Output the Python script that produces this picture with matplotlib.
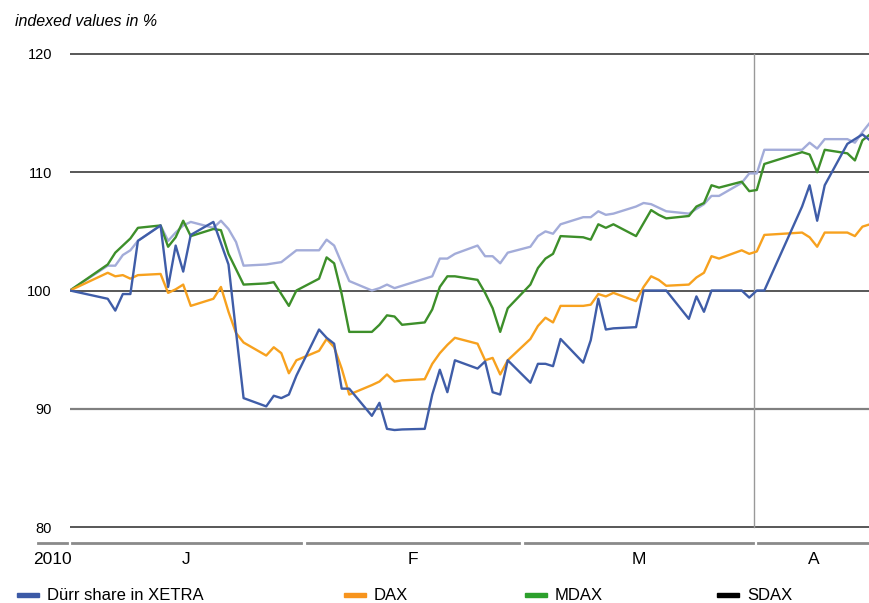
import datetime as dt
import matplotlib
matplotlib.use("Agg")
import matplotlib.pyplot as plt
import matplotlib.dates as mdates
from matplotlib.lines import Line2D
from matplotlib.patches import Rectangle

plt.rcParams['font.family'] = ['Liberation Sans', 'DejaVu Sans']

# trading days (Dec 30, 2009 = base 100)
days = (["2009-12-30"]
        + ["2010-01-%02d" % d for d in (4, 5, 6, 7, 8, 11, 12, 13, 14, 15, 18, 19, 20, 21, 22, 25, 26, 27, 28, 29)]
        + ["2010-02-%02d" % d for d in (1, 2, 3, 4, 5, 8, 9, 10, 11, 12, 15, 16, 17, 18, 19, 22, 23, 24, 25, 26)]
        + ["2010-03-%02d" % d for d in (1, 2, 3, 4, 5, 8, 9, 10, 11, 12, 15, 16, 17, 18, 19, 22, 23, 24, 25, 26, 29, 30, 31)]
        + ["2010-04-%02d" % d for d in (1, 6, 7, 8, 9, 12, 13, 14, 15)])
dates = [dt.datetime.strptime(s, "%Y-%m-%d") for s in days]

durr = [100,
        99.3, 98.3, 99.7, 99.7, 104.2, 105.5, 100.3, 103.8, 101.6, 104.7,
        105.8, 104.0, 102.2, 96.5, 90.9, 90.2, 91.1, 90.9, 91.2, 92.8,
        96.7, 96.0, 95.5, 91.7, 91.7, 89.4, 90.5, 88.3, 88.2, 88.25,
        88.3, 91.2, 93.3, 91.4, 94.1, 93.4, 94.0, 91.4, 91.2, 94.1,
        92.2, 93.8, 93.8, 93.6, 95.9, 93.9, 95.8, 99.3, 96.7, 96.8,
        96.9, 100, 100, 100, 100, 97.6, 99.5, 98.2, 100, 100,
        100, 99.4, 100, 100, 107.1, 108.9, 105.9, 108.9, 112.4, 112.8, 113.2, 112.7]
dax = [100,
       101.5, 101.2, 101.3, 101.0, 101.3, 101.4, 99.8, 100.1, 100.5, 98.7,
       99.3, 100.3, 98.2, 96.4, 95.6, 94.5, 95.2, 94.7, 93.0, 94.1,
       94.9, 95.9, 95.2, 93.4, 91.2, 92.0, 92.3, 92.9, 92.3, 92.4,
       92.5, 93.8, 94.7, 95.4, 96.0, 95.5, 94.1, 94.3, 92.9, 94.1,
       95.9, 97.0, 97.7, 97.3, 98.7, 98.7, 98.8, 99.7, 99.5, 99.8,
       99.1, 100.3, 101.2, 100.9, 100.4, 100.5, 101.1, 101.5, 102.9, 102.7,
       103.4, 103.1, 103.3, 104.7, 104.9, 104.5, 103.7, 104.9, 104.9, 104.6, 105.4, 105.6]
mdax = [100,
        102.2, 103.2, 103.8, 104.4, 105.3, 105.5, 103.7, 104.5, 105.9, 104.6,
        105.2, 105.1, 103.1, 101.8, 100.5, 100.6, 100.7, 99.7, 98.7, 100.0,
        101.0, 102.8, 102.3, 99.7, 96.5, 96.5, 97.1, 97.9, 97.8, 97.1,
        97.3, 98.4, 100.3, 101.2, 101.2, 100.9, 99.8, 98.5, 96.5, 98.5,
        100.5, 101.9, 102.7, 103.1, 104.6, 104.5, 104.3, 105.6, 105.3, 105.6,
        104.6, 105.7, 106.8, 106.4, 106.1, 106.3, 107.1, 107.4, 108.9, 108.7,
        109.2, 108.4, 108.5, 110.7, 111.7, 111.5, 110.0, 111.9, 111.6, 111.0, 112.7, 113.2]
sdax = [100,
        102.1, 102.1, 103.0, 103.4, 104.2, 105.5, 104.2, 104.9, 105.5, 105.8,
        105.3, 105.9, 105.2, 104.1, 102.1, 102.2, 102.3, 102.4, 102.9, 103.4,
        103.4, 104.3, 103.8, 102.3, 100.8, 100.0, 100.2, 100.5, 100.2, 100.4,
        101.0, 101.2, 102.7, 102.7, 103.1, 103.8, 102.9, 102.9, 102.3, 103.2,
        103.7, 104.6, 105.0, 104.8, 105.6, 106.2, 106.2, 106.7, 106.4, 106.5,
        107.1, 107.4, 107.3, 107.0, 106.7, 106.5, 106.9, 107.3, 108.0, 108.0,
        109.1, 109.9, 109.9, 111.9, 111.9, 112.5, 112.0, 112.8, 112.8, 112.5, 113.4, 114.2]

series_names = ["Dürr share in XETRA", "DAX", "MDAX", "SDAX"]
line_colors = ["#3f5da8", "#f7a11e", "#3d8f2a", "#a3acd9"]
legend_colors = ["#3c5aa6", "#f7941d", "#2ca02c", "#000000"]
month_labels = ["2010", "J", "F", "M", "A"]
yticks = [80, 90, 100, 110, 120]

fig = plt.figure(figsize=(8.7, 6.03), dpi=100)
W, H = 870.0, 603.0
ax = fig.add_axes([70 / W, 1 - 530 / H, 800 / W, 480 / H])

ax.set_xlim(mdates.date2num(dt.datetime(2009, 12, 30)), mdates.date2num(dt.datetime(2010, 4, 15)))
ax.set_ylim(80 - 3 / 11.825, 120 + 4 / 11.825)

for v in yticks:
    c, lw = ("#808080", 1.6) if v == 90 else ("#2a2a2a", 1.1)
    ax.axhline(v, color=c, lw=lw, zorder=1)
ax.plot([dt.datetime(2010, 3, 30, 14)] * 2, [80, 120], color="#999999", lw=1, zorder=1)

for vals, col in reversed(list(zip([durr, dax, mdax, sdax], line_colors))):
    ax.plot(dates, vals, color=col, lw=1.7, zorder=3)

for s in ax.spines.values():
    s.set_visible(False)
ax.set_xticks([])
ax.set_yticks(yticks)
ax.set_yticklabels([str(v) for v in yticks], fontsize=10.5)
ax.tick_params(axis="y", length=0, pad=13)

# month bars under the axis
segs = [(38, 67), (72, 301), (307, 519), (525, 753), (758, 870)]
for (x0, x1), lab in zip(segs, month_labels):
    fig.add_artist(Line2D([x0 / W, x1 / W], [1 - 543 / H] * 2, color="#8a8a8a", lw=2))
    fig.text((x0 + x1) / 2 / W, 1 - 560 / H, lab, ha="center", va="center", fontsize=12.5)

fig.text(15 / W, 1 - 22 / H, "indexed values in %", fontsize=11.5, style="italic", va="center")

# legend
leg_x = [17, 344, 525, 717]
for x, name, col in zip(leg_x, series_names, legend_colors):
    fig.add_artist(Rectangle((x / W, 1 - 597 / H), 22 / W, 4 / H, color=col, transform=fig.transFigure))
    fig.text((x + 30) / W, 1 - 595 / H, name, fontsize=12, va="center")

fig.savefig("out.png", dpi=100)
